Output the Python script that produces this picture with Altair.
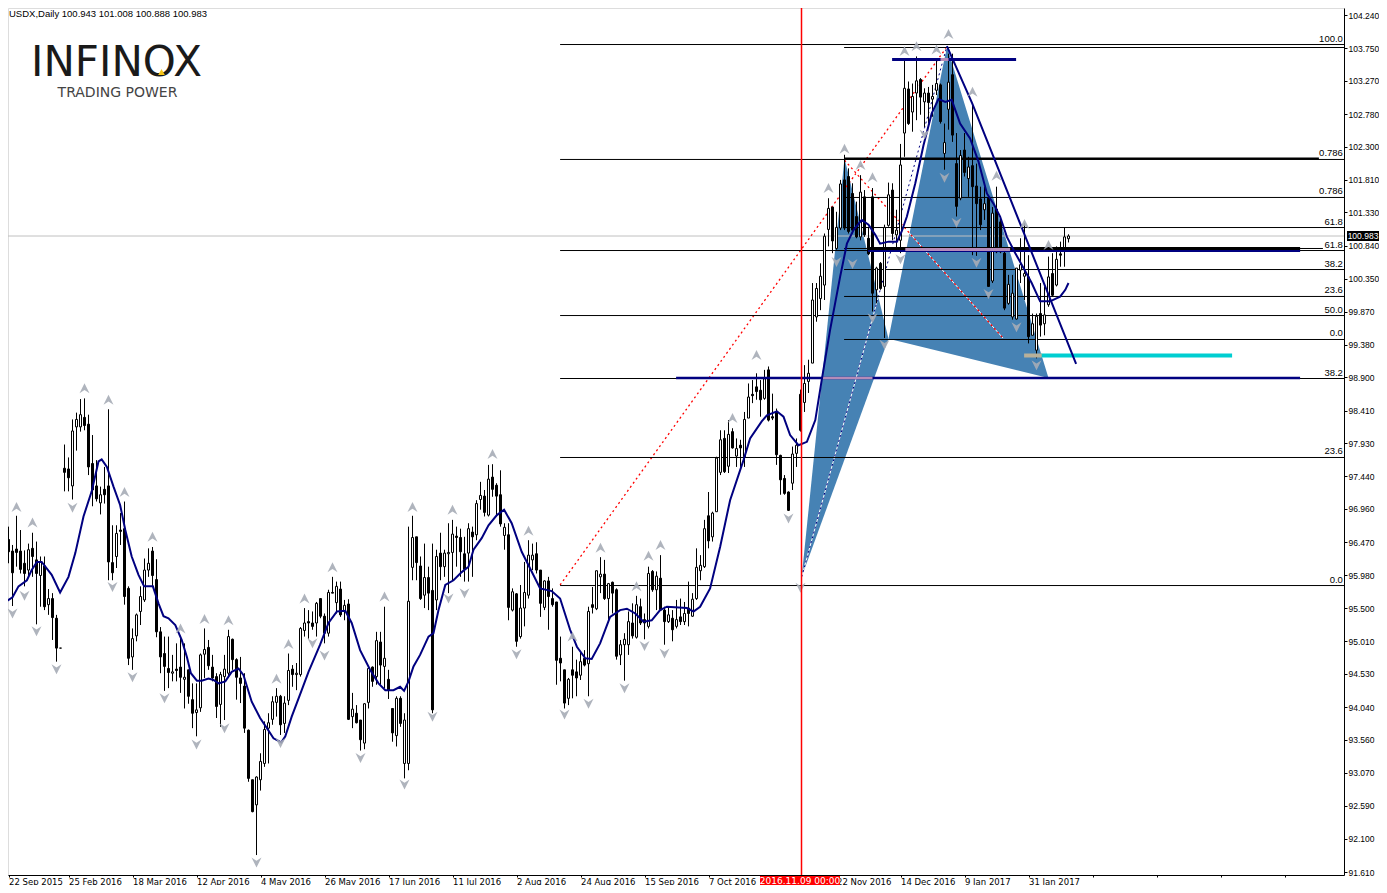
import altair as alt
import pandas as pd

highs = [
96.55,96.70,96.43,96.86,96.65,96.35,96.45,96.61,96.48,96.26,
96.26,95.78,95.72,95.40,94.91,97.91,97.72,98.28,98.38,98.58,
98.59,98.35,98.05,97.68,97.29,97.58,98.43,96.72,96.72,96.90,
97.07,95.82,95.20,95.42,95.82,96.23,96.38,96.40,96.22,95.22,
95.08,95.08,94.81,94.98,95.09,94.98,94.59,94.39,94.39,94.83,
95.20,95.03,94.81,94.54,94.56,94.81,95.18,95.05,94.76,94.78,
94.54,93.71,92.97,93.02,93.36,93.83,93.95,94.20,94.32,94.22,
94.20,94.83,94.66,94.69,95.22,95.50,95.47,95.45,95.59,95.64,
95.42,95.77,95.96,95.89,95.89,95.62,95.63,94.25,94.07,93.85,
94.10,94.61,94.64,95.15,95.15,95.52,94.59,94.02,94.20,94.20,
93.95,96.70,96.86,96.55,96.26,96.45,96.11,96.45,96.36,96.61,
96.36,96.75,96.80,96.70,96.67,96.55,96.75,96.70,97.09,97.36,
97.24,97.61,97.62,97.34,97.53,96.75,96.75,95.79,95.72,95.84,
96.18,96.50,96.45,96.47,96.06,95.91,95.96,95.79,95.59,95.08,
94.59,94.47,94.93,94.74,94.86,94.88,95.52,95.81,96.05,96.25,
96.21,95.87,95.89,95.79,95.03,95.13,95.45,95.57,95.68,95.64,
95.42,96.11,96.06,96.04,96.28,95.52,95.52,95.47,95.62,95.64,
95.59,95.89,95.72,96.38,96.28,96.80,97.21,96.92,97.73,98.12,
98.12,98.27,98.15,98.00,97.98,98.39,98.81,98.86,98.96,98.86,
99.01,99.06,98.66,98.44,97.76,97.46,97.22,97.88,98.00,98.72,
99.08,99.16,100.29,100.29,100.58,101.02,101.54,101.41,101.34,101.81,
102.18,101.98,101.76,101.49,101.88,101.66,101.12,101.69,100.53,100.60,
101.15,101.77,101.76,101.37,102.34,103.58,103.26,103.23,103.63,103.31,
103.16,103.18,103.21,103.58,103.23,102.64,103.67,103.67,102.50,102.25,
102.50,102.15,102.94,102.05,101.71,101.71,101.56,101.41,101.71,101.27,
100.75,100.41,100.41,100.51,100.95,101.17,100.70,99.84,99.84,100.29,
100.24,100.68,100.73,100.83,100.90,101.11,101.008]

lows = [
95.87,96.16,95.53,96.11,96.01,95.82,95.96,95.96,95.26,95.52,
95.47,95.40,95.03,94.71,94.91,97.22,97.22,97.10,97.82,98.10,
98.12,97.46,97.00,97.07,96.88,97.04,95.91,95.91,96.09,96.43,
95.55,94.66,94.59,95.01,95.25,95.59,95.96,95.82,95.07,94.54,
94.28,94.32,94.42,94.42,94.25,94.02,94.09,93.73,93.61,93.97,
94.47,94.59,94.42,93.88,93.75,93.85,94.49,94.59,94.15,94.10,
93.66,92.94,92.49,91.86,92.81,93.16,93.21,93.78,93.90,93.63,
93.66,94.07,94.34,94.29,94.49,95.08,95.05,95.18,95.08,95.35,
94.98,95.08,95.72,95.42,95.37,95.32,93.85,93.73,93.80,93.40,
93.42,94.02,94.34,94.37,94.37,94.32,94.16,93.53,93.46,93.75,
92.99,93.11,95.91,95.91,95.62,95.50,95.47,93.95,95.47,95.91,
95.96,95.72,95.91,96.11,95.96,95.89,95.89,95.96,96.50,96.95,
96.85,96.85,97.14,96.85,96.70,96.36,95.32,95.45,94.93,95.05,
95.23,95.64,96.06,96.01,95.37,95.47,95.18,95.52,94.37,94.42,
94.02,94.07,94.17,94.20,94.44,94.64,94.20,95.42,95.47,95.72,
95.62,95.32,95.42,94.74,94.66,94.43,94.81,95.05,95.05,95.25,
95.04,95.20,95.74,95.47,95.46,94.96,95.28,95.01,95.20,95.25,
95.25,95.23,95.37,95.62,95.91,96.09,96.38,96.48,96.92,97.46,
97.49,97.49,97.85,97.58,97.58,97.58,98.30,98.52,98.57,98.32,
98.57,98.25,98.27,97.61,97.17,97.17,96.93,97.24,97.58,98.10,
98.39,98.67,99.11,99.72,99.89,100.04,100.83,100.73,100.78,101.07,
101.07,101.02,101.02,100.95,100.92,100.97,100.70,99.87,99.99,100.19,
99.48,101.12,100.92,100.78,100.73,102.15,102.62,102.52,102.69,102.77,
102.59,102.64,102.74,103.06,102.64,101.96,102.55,102.37,101.27,101.51,
101.86,101.56,100.70,100.69,101.07,101.22,100.24,100.29,100.73,100.73,
99.89,99.97,99.75,99.75,100.29,100.04,99.40,99.52,99.18,99.50,
99.52,99.94,100.09,100.24,100.53,100.53,100.888]

opens = [
96.02,96.51,96.34,96.37,96.34,96.16,96.06,96.38,96.21,95.98,
96.12,95.55,95.64,95.35,94.91,97.56,97.55,97.30,98.17,98.17,
98.31,98.21,97.63,97.30,97.05,97.25,97.30,96.17,96.26,96.65,
96.67,95.79,94.78,95.09,95.45,95.62,96.06,96.34,95.92,95.15,
94.83,94.61,94.54,94.60,94.63,94.45,94.59,94.15,93.96,94.03,
94.82,94.92,94.63,94.49,94.08,94.49,94.54,95.04,94.74,94.47,
94.35,93.70,92.97,92.60,92.97,93.21,93.73,93.86,94.11,94.20,
93.80,94.14,94.60,94.52,94.52,95.17,95.30,95.28,95.28,95.64,
95.38,95.13,95.73,95.58,95.78,95.45,95.56,93.90,93.95,93.85,
93.51,94.11,94.63,94.49,95.00,94.64,94.45,94.02,93.62,94.17,
93.21,93.21,96.10,96.55,96.12,95.69,95.95,95.76,95.62,96.31,
96.11,96.30,96.32,96.56,96.54,96.30,96.31,96.62,96.58,97.10,
97.15,96.87,97.43,97.31,97.17,96.57,96.58,95.47,95.71,95.08,
95.50,95.69,96.21,96.30,96.06,95.51,95.90,95.64,95.59,94.76,
94.59,94.17,94.59,94.56,94.51,94.76,94.68,95.55,95.49,95.96,
96.00,95.64,95.88,95.77,94.81,94.96,94.96,95.28,95.07,95.52,
95.33,95.23,96.04,95.77,95.94,95.47,95.30,95.35,95.23,95.37,
95.30,95.50,95.38,95.64,96.05,96.11,96.86,96.55,96.92,97.50,
98.00,97.59,98.10,97.74,97.90,97.73,98.30,98.65,98.76,98.71,
98.59,99.01,98.32,98.39,97.75,97.41,97.21,97.34,97.78,98.65,
98.53,98.84,99.11,99.79,100.06,100.26,101.08,101.41,100.80,101.10,
101.81,101.86,101.61,101.27,100.97,101.56,100.95,101.56,100.19,100.58,
100.24,101.14,101.66,101.00,100.92,102.50,103.15,102.81,103.09,103.29,
102.96,103.09,103.00,103.13,103.21,102.20,102.85,103.36,102.05,101.54,
102.25,101.83,102.02,101.72,101.53,101.37,101.54,100.32,101.38,101.19,
100.73,99.99,99.79,99.76,100.48,100.39,100.38,99.52,99.30,99.84,
99.69,99.97,100.43,100.26,100.72,100.78,100.943]

closes = [
96.50,96.33,96.02,96.32,96.07,96.01,96.36,96.26,96.01,96.18,
95.52,95.64,95.36,94.91,94.91,97.50,97.42,98.11,98.28,98.35,
98.19,97.58,97.24,97.11,97.17,97.17,96.18,96.02,96.60,96.63,
95.67,94.76,95.05,95.40,95.67,96.06,96.16,95.98,95.15,94.78,
94.64,94.55,94.56,94.58,94.48,94.48,94.20,93.95,94.00,94.81,
94.89,94.65,94.47,94.05,94.52,94.60,95.08,94.74,94.48,94.39,
93.73,92.99,92.50,93.01,93.24,93.71,93.81,94.12,94.20,93.78,
94.10,94.58,94.52,94.54,95.20,95.28,95.28,95.23,95.57,95.38,
95.13,95.73,95.72,95.82,95.40,95.54,93.86,94.01,93.81,93.56,
94.09,94.61,94.42,95.02,94.66,94.76,94.29,93.66,94.17,93.80,
93.85,95.60,96.54,96.17,95.64,95.95,95.72,94.00,96.26,96.11,
96.31,96.32,96.59,96.54,96.33,96.07,96.67,96.55,97.04,97.16,
96.91,97.40,97.25,97.15,96.74,96.69,95.51,95.74,95.01,95.50,
95.73,96.28,96.28,96.06,95.57,95.90,95.67,95.55,94.73,94.69,
94.10,94.45,94.51,94.47,94.71,94.66,95.45,95.51,96.05,96.00,
95.64,95.86,95.72,94.79,94.96,95.04,95.30,95.09,95.55,95.28,
95.28,96.01,95.77,95.97,95.47,95.30,95.40,95.18,95.33,95.30,
95.42,95.42,95.63,96.10,96.13,96.67,96.49,96.90,97.71,97.98,
97.51,98.06,97.86,97.85,97.86,98.28,98.61,98.63,98.69,98.57,
98.88,98.27,98.30,97.76,97.39,97.19,96.94,97.77,97.90,98.12,
98.81,98.96,100.04,100.21,100.39,100.98,101.39,100.91,101.11,101.75,
101.10,101.05,101.07,100.97,101.63,101.00,100.72,100.14,100.51,100.21,
101.11,101.59,101.02,101.07,102.03,103.16,102.64,103.04,103.27,103.03,
103.09,102.95,103.04,103.23,102.67,102.36,103.25,102.47,101.42,102.17,
101.92,102.00,101.71,101.46,101.15,101.46,100.24,101.32,100.75,100.75,
99.92,100.27,100.14,100.51,100.56,100.43,99.50,99.69,99.80,99.67,
99.82,100.38,100.11,100.64,100.70,100.97,100.983]

ma_bar = [
0,2,3.5,5.6,6.8,8.1,9.3,11.8,13.9,16,17.7,19.75,21.8,23.5,24.3,25.6,27.25,28.9,30.2,31.8,
33.5,34.9,37.1,38.5,39.75,41,42.7,44.3,45.6,46.6,48.1,49.3,51,52.25,53.5,55.2,56.8,58.5,59.75,61.8,
63.9,65.6,67.25,69.2,70.2,71.8,74.3,76,78.9,81,83.1,85.2,86.8,88.9,91.4,93.5,95.2,97.25,98.9,99.9,
101,102.25,103.9,106,107.25,108.5,110.2,112.25,114.3,116,117.25,119.3,121,123.1,124.9,126.8,129.3,131,133.9,136.8,
138.9,141.4,143.1,145.2,146.8,148.9,151.4,153.9,155.6,157.7,159.75,161.8,163.9,165.6,170.6,172.25,173.9,176.4,178.9,181.4,
184.75,186.4,189.3,190.6,193.1,194.75,196.4,198.5,200.6,202.7,204.3,206.4,208.9,210.6,212.25,214.3,216,217.7,218.9,221,
223.1,224.3,225.6,227.7,229.75,231.8,233.5,235.2,236.8,238.9,241.4,243.5,245.6,247.25,248.9,250.6,252.7,254.75,256.8,258.9,
261.4,263.9,265.2,266]
ma_price = [
95.58,95.66,95.82,95.91,96.06,96.18,96.18,95.99,95.73,95.96,96.31,96.85,97.22,97.66,97.69,97.58,97.29,97.02,96.65,96.26,
95.99,95.82,95.82,95.57,95.38,95.35,95.25,95.03,94.78,94.54,94.43,94.43,94.46,94.44,94.39,94.42,94.56,94.61,94.51,94.12,
93.88,93.73,93.58,93.52,93.61,93.90,94.29,94.56,94.96,95.28,95.45,95.46,95.28,94.88,94.59,94.39,94.29,94.29,94.34,94.28,
94.42,94.64,94.81,95.08,95.13,95.47,95.84,95.91,96.03,96.11,96.36,96.53,96.72,96.87,96.95,96.75,96.33,96.13,95.79,95.75,
95.64,95.18,94.93,94.76,94.75,94.98,95.37,95.47,95.49,95.42,95.30,95.32,95.47,95.52,95.50,95.45,95.52,95.79,96.40,97.09,
97.68,98.00,98.25,98.34,98.40,98.32,98.05,97.90,97.95,98.27,98.86,99.60,100.38,100.87,101.07,101.22,101.15,101.00,100.87,100.90,
100.90,101.05,101.27,101.76,102.32,102.79,103.00,102.96,102.99,102.64,102.42,102.08,101.61,101.46,101.27,100.97,100.73,100.51,100.29,100.02,
100.02,100.09,100.19,100.29]

up_bar = [3,7,20,26,30,37,44,50,56,68,71,75,82,95,102,112,122,131,142,149,158,161,164,182,188,206,210,214,217,225,228,233,236,242,248,255,261]
up_price = [96.99,96.76,98.74,98.57,97.21,96.55,95.20,95.34,95.32,94.46,94.97,95.64,96.10,95.67,96.99,96.95,97.77,96.64,95.08,96.39,95.82,96.27,96.43,98.30,99.23,101.69,102.27,102.03,101.85,103.71,103.78,103.73,103.96,103.11,101.87,101.16,100.85]
down_bar = [2,5,8,13,17,27,32,40,48,55,63,69,77,80,89,100,107,111,115,128,140,146,155,160,165,196,199,208,212,217,220,224,230,235,238,243,246,253,258]
down_price = [95.42,95.68,95.16,94.60,96.98,95.81,94.48,94.17,93.49,93.73,91.75,93.51,94.98,94.80,93.29,92.90,93.90,95.64,95.72,94.82,93.93,94.09,94.32,94.94,94.83,96.82,95.80,100.60,100.57,99.77,99.38,100.64,102.48,101.84,101.18,100.59,100.13,99.64,99.08]

pattern_bar = [199.3,210,221,235.6,261]
pattern_price = [95.96,102.13,99.47,103.78,98.89]

fib_a_price = [103.805,102.111,100.769,99.811,98.883,97.719,95.832]
fib_a_start = [138.9]*7
fib_a_end = [334.875]*7
fib_b_price = [103.761,101.551,101.108,100.489,100.092,99.458]
fib_b_start = [209.9]*6
fib_b_end = [334.875]*6

fib_labels = ["100.0","0.786","0.786","61.8","61.8","38.2","23.6","50.0","0.0","38.2","23.6","0.0"]
fib_label_price = [103.805,102.111,101.551,101.108,100.769,100.489,100.092,99.811,99.458,98.883,97.719,95.832]

trend_bar = [235.6,241.9,267.9]
trend_price = [103.78,102.94,99.10]
red_a_bar = [138.9,235.6]
red_a_price = [95.84,103.77]
red_b_bar = [210,249.6]
red_b_price = [102.10,99.48]
blue_dot_bar = [199.3,235.6]
blue_dot_price = [95.96,103.78]

tick_bars = [1]+list(range(16,336,16))
tick_names = {1:"22 Sep 2015",16:"25 Feb 2016",32:"18 Mar 2016",48:"12 Apr 2016",64:"4 May 2016",80:"26 May 2016",
              96:"17 Jun 2016",112:"11 Jul 2016",128:"2 Aug 2016",144:"24 Aug 2016",160:"15 Sep 2016",176:"7 Oct 2016",
              208:"22 Nov 2016",224:"14 Dec 2016",240:"9 Jan 2017",256:"31 Jan 2017"}
price_ticks = [104.24,103.75,103.27,102.78,102.30,101.81,101.33,100.84,100.35,99.87,99.38,98.90,98.41,
               97.93,97.44,96.96,96.47,95.98,95.50,95.01,94.53,94.04,93.56,93.07,92.59,92.10,91.61]

FONT = "Liberation Sans"
NAVY = "#000080"
xs = alt.Scale(domain=[0.875, 334.875], nice=False, zero=False)
ys = alt.Scale(domain=[91.56618, 104.34316], nice=False, zero=False)

label_expr = "{" + ",".join(f"{k}:'{v}'" for k, v in tick_names.items()) + "}[datum.value] || ''"
x_axis = alt.Axis(
    values=tick_bars, grid=False, labelExpr=label_expr, labelAlign="left", labelPadding=0, tickSize=2,
    labelOverlap=False, labelFlush=False, labelBound=False, labelFont="DejaVu Sans", labelFontSize=8.5,
    labelColor="black", tickColor="black", domainColor="black", labelBaseline="top", title=None)
y_axis = alt.Axis(
    orient="right", values=price_ticks, format=".3f", grid=False, tickSize=3, labelPadding=1,
    labelOverlap=False, labelFlush=False, labelBound=False, labelFont=FONT, labelFontSize=8.5,
    labelColor="black", tickColor="black", domainColor="black", title=None)


def XF(f):
    return alt.X(f, scale=xs, axis=x_axis)


def YF(f):
    return alt.Y(f, scale=ys, axis=y_axis)


X = XF("i:Q")
Y = YF("p:Q")

bars = pd.DataFrame({"i": range(len(highs)), "h": highs, "l": lows, "o": opens, "c": closes})
bars["top"] = bars[["o", "c"]].max(axis=1)
bars["bot"] = bars[["o", "c"]].min(axis=1)
bars["x1"] = bars["i"] - 0.25
bars["x2"] = bars["i"] + 0.25
bars["fill"] = ["white" if c >= o else "black" for o, c in zip(opens, closes)]


def tri(a, b, c):
    xa, xb, xc = pattern_bar[a], pattern_bar[b], pattern_bar[c]
    pa, pb, pc = pattern_price[a], pattern_price[b], pattern_price[c]
    return pd.DataFrame({"i": [xa, xb, xc], "p": [pa, pb, pc],
                         "p2": [pa, pa + (pc - pa) * (xb - xa) / (xc - xa), pc]})


def area(df):
    return alt.Chart(df).mark_area(color="#4682B4", opacity=1, interpolate="linear").encode(
        x=X, y=Y, y2="p2:Q")


def hline(starts, ends, prices, color, width):
    df = pd.DataFrame({"i": starts, "i2": ends, "p": prices})
    return alt.Chart(df).mark_rule(color=color, strokeWidth=width).encode(x=X, x2="i2:Q", y=Y)


def path(xv, yv, color, width, dash=None):
    df = pd.DataFrame({"i": xv, "p": yv, "k": range(len(xv))})
    args = dict(color=color, strokeWidth=width, clip=True)
    if dash:
        args["strokeDash"] = dash
    return alt.Chart(df).mark_line(**args).encode(x=X, y=Y, order="k:Q")


def pix_text(txt, x, y, size=10, color="black", align="left", font=FONT, weight="normal", baseline="middle"):
    return alt.Chart(pd.DataFrame({"t": [txt]})).mark_text(
        font=font, fontSize=size, color=color, align=align, baseline=baseline, fontWeight=weight
    ).encode(x=alt.value(x), y=alt.value(y), text="t:N")


UP = "M0,-1L1,1L0,0.35L-1,1Z"
DOWN = "M0,1L1,-1L0,-0.35L-1,-1Z"

layers = [
    area(tri(0, 1, 2)),
    area(tri(2, 3, 4)),
    alt.Chart(pd.DataFrame({"p": [100.983]})).mark_rule(color="#c0c0c0", strokeWidth=1).encode(y=Y),
    path(red_a_bar, red_a_price, "red", 1.3, [2, 3]),
    path(red_b_bar, red_b_price, "white", 1),
    path(red_b_bar, red_b_price, "red", 1.3, [2, 3]),
    path(blue_dot_bar, blue_dot_price, "white", 1),
    path(blue_dot_bar, blue_dot_price, NAVY, 1, [2, 3]),
    hline(fib_a_start, fib_a_end, fib_a_price, "black", 1),
    hline(fib_b_start, fib_b_end, fib_b_price, "black", 1),
    hline([209.9], [328.6], [102.125], "black", 2),
    hline([209.9], [329.6], [100.799], "black", 1),
]

layers += [
    alt.Chart(bars).mark_rule(color="black", strokeWidth=1, clip=True).encode(x=X, y=YF("h:Q"), y2="l:Q"),
    alt.Chart(bars).mark_rect(stroke="black", strokeWidth=1, clip=True).encode(
        x=XF("x1:Q"), x2="x2:Q", y=YF("top:Q"), y2="bot:Q",
        fill=alt.Fill("fill:N", scale=None)),
    hline([167.9], [323.9], [98.89], NAVY, 2.5),
    hline([215.9], [323.9], [100.799], "black", 3),
    hline([215.9], [323.9], [100.762], NAVY, 2),
    hline([221.9], [252.9], [103.584], NAVY, 3),
    hline([225.2], [251.4], [100.785], "#b58bb8", 3),
    hline([204.6], [217], [98.89], "#b58bb8", 2.5),
    hline([234], [236], [103.584], "#b58bb8", 3),
    hline([258.9], [306.9], [99.222], "#00CED1", 4),
    hline([254.9], [259.3], [99.222], "#b8b09a", 4),
    path(ma_bar, ma_price, NAVY, 2),
    path(trend_bar, trend_price, NAVY, 2),
    alt.Chart(pd.DataFrame({"i": up_bar, "p": up_price})).mark_point(
        shape=UP, size=100, filled=True, color="#a6acb6", opacity=0.9, clip=True).encode(x=X, y=Y),
    alt.Chart(pd.DataFrame({"i": down_bar, "p": down_price})).mark_point(
        shape=DOWN, size=100, filled=True, color="#a6acb6", opacity=0.9, clip=True).encode(x=X, y=Y),
    alt.Chart(pd.DataFrame({"i": [334.6] * len(fib_labels), "p": fib_label_price, "t": fib_labels})).mark_text(
        font=FONT, fontSize=9.5, color="black", align="right", baseline="middle", dy=-6).encode(x=X, y=Y, text="t:N"),
    pix_text("USDX,Daily  100.943 101.008 100.888 100.983", 1, 1, size=9.5, baseline="top"),
    pix_text("INFINOX", 108.5, 55, size=42, color="#1a1a1a", align="center", font="DejaVu Sans"),
    pix_text("TRADING POWER", 109.5, 85, size=14, color="#444444", align="center", font="DejaVu Sans"),
    alt.Chart(pd.DataFrame({"a": [1]})).mark_point(shape="triangle-up", size=45, filled=True, color="#f5c518", opacity=1).encode(
        x=alt.value(153.5), y=alt.value(64)),
    alt.Chart(pd.DataFrame({"i": [199.25], "y1": [91.56618], "y2": [104.34316]})).mark_rule(
        color="#ff0000", strokeWidth=1.5, opacity=1).encode(x=X, y=YF("y1:Q"), y2="y2:Q"),
    alt.Chart(pd.DataFrame({"a": [1]})).mark_rect(color="red").encode(
        x=alt.value(752), x2=alt.value(832), y=alt.value(868), y2=alt.value(877)),
    pix_text("2016.11.09 00:00", 792, 872.5, size=9, color="white", align="center", font="DejaVu Sans"),
    alt.Chart(pd.DataFrame({"a": [1]})).mark_rect(color="black").encode(
        x=alt.value(1339), x2=alt.value(1371), y=alt.value(223), y2=alt.value(233)),
    pix_text("100.983", 1355, 228, size=8.5, color="white", align="center"),
]

chart = alt.layer(*layers).properties(
    width=1336, height=867, autosize="none",
    padding={"left": 0, "top": 0, "right": 35, "bottom": 10},
).configure_view(stroke="black", strokeWidth=1).configure(background="white")

print(len(highs), len(lows), len(opens), len(closes))
chart.save("out.html", embed_options={"renderer": "svg", "actions": False})
